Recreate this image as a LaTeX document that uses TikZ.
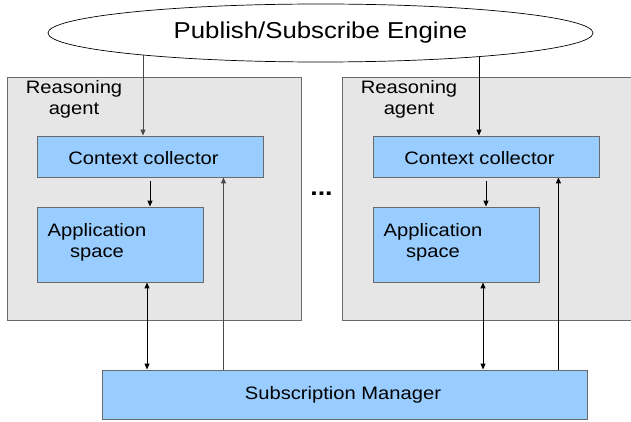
\documentclass[tikz,border=0pt]{standalone}
\usepackage{fontspec}
\setmainfont{Liberation Sans}[FakeStretch=1.12]
\usetikzlibrary{arrows.meta,shapes.geometric}
\pgfdeclarelayer{agents}
\pgfdeclarelayer{links}
\pgfsetlayers{agents,links,main}
\definecolor{agentgrey}{HTML}{E6E6E6}
\definecolor{boxblue}{HTML}{99CCFF}
\definecolor{framegrey}{HTML}{6A6A6A}
\definecolor{linkgrey}{HTML}{4A4A4A}
\tikzset{
  agentbox/.style={rectangle, draw=framegrey, fill=agentgrey, line width=0.9pt,
    minimum width=294pt, minimum height=243pt, inner sep=0pt},
  bluebox/.style={rectangle, draw=framegrey, fill=boxblue, line width=0.9pt, inner sep=0pt},
  engineshape/.style={ellipse, draw=black, fill=white, line width=0.7pt,
    minimum width=545pt, minimum height=58pt, inner sep=0pt},
  label/.style={font=\fontsize{18}{21}\selectfont, align=center, inner sep=0pt},
  link/.style={draw=black, line width=1pt, -{Triangle[length=6pt,width=5pt]}},
  duplex/.style={link, {Triangle[length=6pt,width=5pt]}-{Triangle[length=6pt,width=5pt]}},
}
\begin{document}
\begin{tikzpicture}[x=1pt,y=-1pt]
\useasboundingbox (0,0) rectangle (631,422);

% two reasoning agents
\begin{pgfonlayer}{agents}
  \node[agentbox] (agentL) at (154,198.5) {};
  \node[agentbox] (agentR) at (489,198.5) {};
\end{pgfonlayer}
\node[label, anchor=center] (agentLtxt) at (74,99) {Reasoning\\agent};
\node[label, anchor=center] (agentRtxt) at (409,99) {Reasoning\\agent};

% engine
\node[engineshape, font=\fontsize{23}{26}\selectfont] (engine) at (320.5,33) {Publish/Subscribe Engine};

% context collectors
\node[bluebox, minimum width=226pt, minimum height=41pt] (ccL) at (150,156.5) {};
\node[bluebox, minimum width=226pt, minimum height=41pt] (ccR) at (486,156.5) {};
\node[label] (ccLtxt) at (143.5,158) {Context collector};
\node[label] (ccRtxt) at (479.5,158) {Context collector};

% application spaces
\node[bluebox, minimum width=166pt, minimum height=75pt] (asL) at (120,244.5) {};
\node[bluebox, minimum width=166pt, minimum height=75pt] (asR) at (456,244.5) {};
\node[label] (asLtxt) at (97,242.5) {Application\\space};
\node[label] (asRtxt) at (433,242.5) {Application\\space};

% subscription manager
\node[bluebox, minimum width=485pt, minimum height=49pt] (sm) at (344.5,394.5) {};
\node[label] (smtxt) at (343,394.5) {Subscription Manager};

% ellipsis between the agents
\node[font=\bfseries\fontsize{24}{24}\selectfont, anchor=base, inner sep=0pt] (dots) at (321.5,195) {...};

% anchor points of the vertical links
\coordinate (inL) at ([xshift=-7pt]ccL.north);
\coordinate (inR) at ([xshift=-7pt]ccR.north);
\coordinate (upL) at ([xshift=-40pt]ccL.south east);
\coordinate (upR) at ([xshift=-41pt]ccR.south east);
\coordinate (ioL) at ([xshift=27pt]asL.south);
\coordinate (ioR) at ([xshift=27pt]asR.south);

\begin{pgfonlayer}{links}
  \draw[link, draw=linkgrey] (engine.center -| inL) -- (inL);
  \draw[link] (engine.center -| inR) -- (inR);
  \draw[link, shorten <=4pt] (ccL.south) -- (ccL.south |- asL.north);
  \draw[link, shorten <=4pt] (ccR.south) -- (ccR.south |- asR.north);
  \draw[duplex] (ioL) -- (ioL |- sm.north);
  \draw[duplex] (ioR) -- (ioR |- sm.north);
  \draw[link, draw=linkgrey] (upL |- sm.north) -- (upL);
  \draw[link] (upR |- sm.north) -- (upR);
\end{pgfonlayer}
\end{tikzpicture}
\end{document}
